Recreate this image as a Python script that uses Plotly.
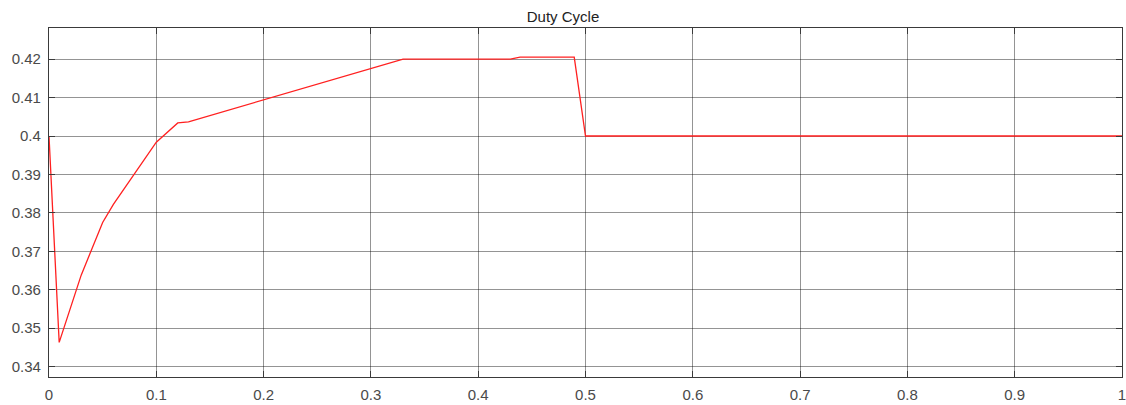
import plotly.graph_objects as go

# Duty cycle trace (time in s, duty ratio)
t = [0.0, 0.0095, 0.03, 0.05, 0.06, 0.1, 0.12, 0.13, 0.33, 0.43, 0.439, 0.4895, 0.5, 1.0]
duty = [0.400, 0.3463, 0.3638, 0.3775, 0.3822, 0.3984, 0.4034, 0.4037, 0.4200, 0.4200, 0.4205, 0.4205, 0.400, 0.400]

x_ticks = [0, 0.1, 0.2, 0.3, 0.4, 0.5, 0.6, 0.7, 0.8, 0.9, 1]
x_labels = ["0", "0.1", "0.2", "0.3", "0.4", "0.5", "0.6", "0.7", "0.8", "0.9", "1"]
y_ticks = [0.34, 0.35, 0.36, 0.37, 0.38, 0.39, 0.40, 0.41, 0.42]
y_labels = ["0.34", "0.35", "0.36", "0.37", "0.38", "0.39", "0.4", "0.41", "0.42"]

fig = go.Figure()
fig.add_trace(go.Scatter(x=t, y=duty, mode="lines",
                         line=dict(color="#ff2020", width=1.3),
                         showlegend=False, hoverinfo="skip"))

axis_common = dict(
    showline=True, linecolor="#3a3a3a", linewidth=1.3, mirror="ticks",
    ticks="inside", ticklen=6, tickcolor="#3a3a3a", tickwidth=1,
    showgrid=True, gridcolor="rgba(0,0,0,0.42)", gridwidth=1,
    zeroline=False, automargin=False, ticklabeloverflow="allow",
    tickfont=dict(family="Liberation Sans, Arial, sans-serif", size=15, color="#4a4a4a"),
)

fig.update_layout(
    width=1126, height=405,
    margin=dict(l=49, r=4, t=28, b=28),
    paper_bgcolor="white", plot_bgcolor="white",
    title=dict(text="Duty Cycle", x=0.5, xanchor="center", y=1, yref="paper",
               yanchor="bottom", pad=dict(b=6),
               font=dict(family="Liberation Sans, Arial, sans-serif", size=15, color="#222222")),
    xaxis=dict(range=[0, 1], tickvals=x_ticks, ticktext=x_labels, ticklabelstandoff=4, **axis_common),
    yaxis=dict(range=[0.3373, 0.4281], tickvals=y_ticks, ticktext=y_labels, ticklabelstandoff=4, **axis_common),
)

fig.write_html("out.html")
